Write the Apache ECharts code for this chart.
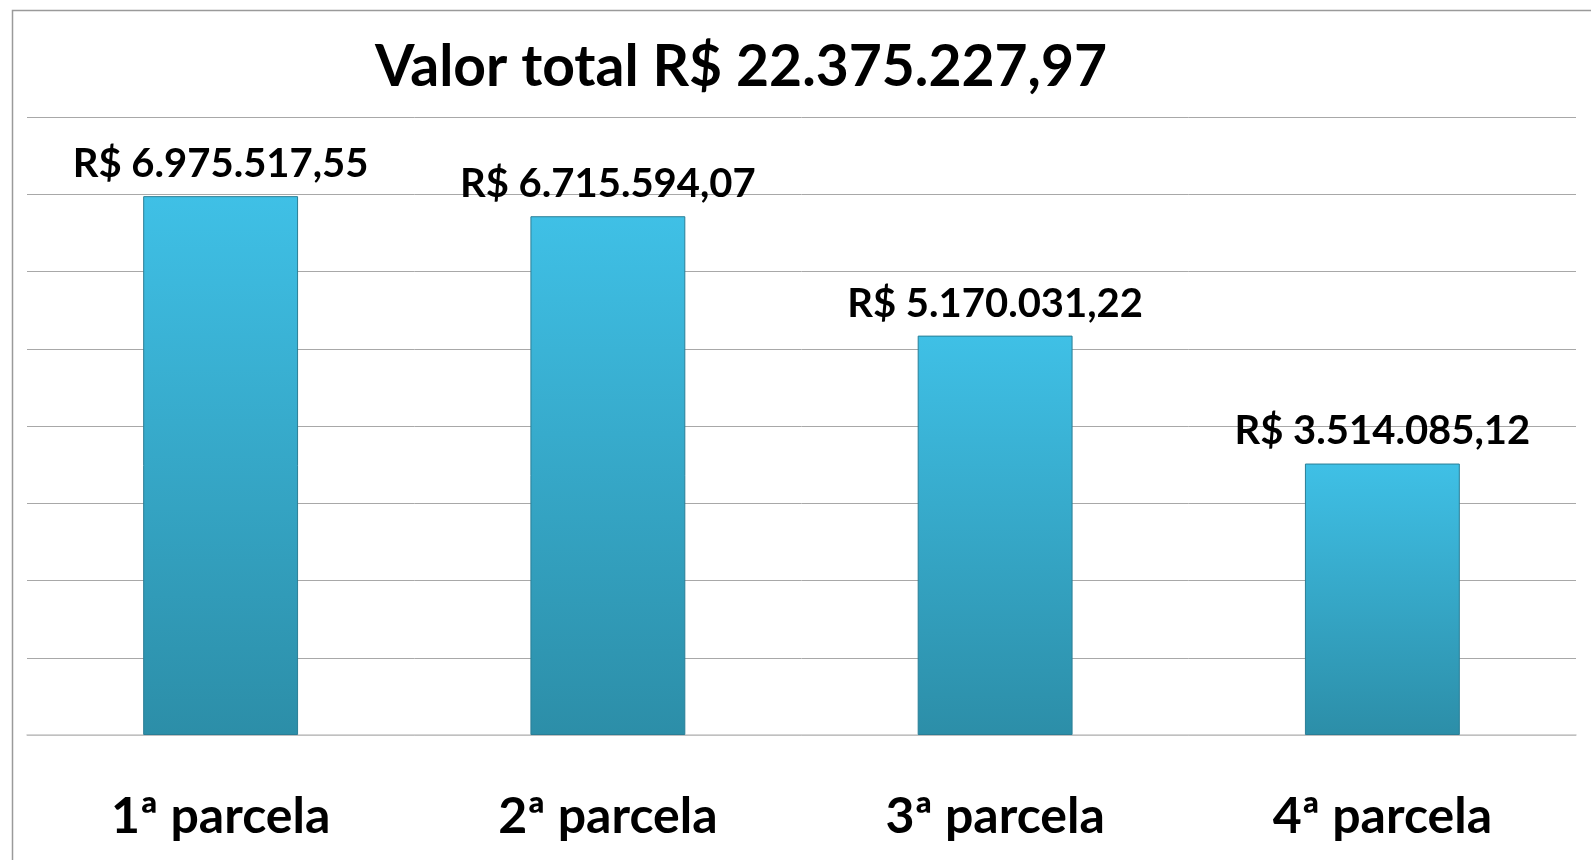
<!DOCTYPE html>
<html>
<head>
<meta charset="utf-8">
<script src="https://cdn.jsdelivr.net/npm/echarts@6/dist/echarts.min.js"></script>
<style>
  html, body { margin: 0; padding: 0; background: #fff; }
  #chart { width: 1591px; height: 860px; }
</style>
</head>
<body>
<div id="chart"></div>
<script>
const categories = ['1ª parcela', '2ª parcela', '3ª parcela', '4ª parcela'];
const values = [6975517.55, 6715594.07, 5170031.22, 3514085.12];
const titleText = 'Valor total R$ 22.375.227,97';

const FONT = 'Lato, "Open Sans", sans-serif';

function brl(v) {
  const parts = v.toFixed(2).split('.');
  const intPart = parts[0].replace(/\B(?=(\d{3})+(?!\d))/g, '.');
  return 'R$ ' + intPart + ',' + parts[1];
}

const chart = echarts.init(document.getElementById('chart'));
chart.setOption({
  animation: false,
  backgroundColor: '#fff',
  graphic: [{
    type: 'rect',
    left: 10, top: 8,
    shape: { width: 1620, height: 900 },
    style: { fill: 'none', stroke: '#9a9a9a', lineWidth: 1.5 }
  }],
  title: {
    text: titleText,
    left: 736,
    textAlign: 'center',
    top: 34,
    textStyle: { fontFamily: FONT, fontWeight: 'bold', fontSize: 57, color: '#000' }
  },
  grid: { left: 27, right: 15, top: 117, bottom: 125 },
  xAxis: {
    type: 'category',
    data: categories,
    axisTick: { show: false },
    axisLine: { lineStyle: { color: '#c8c8c8', width: 1.5 } },
    axisLabel: {
      margin: 82,
      verticalAlign: 'middle',
      lineHeight: 50,
      fontFamily: FONT, fontWeight: 'bold', fontSize: 50, color: '#000'
    }
  },
  yAxis: {
    type: 'value',
    min: 0, max: 8000000, interval: 1000000,
    axisLabel: { show: false },
    axisLine: { show: false },
    axisTick: { show: false },
    splitLine: { lineStyle: { color: '#a8a8a8', width: 1 } }
  },
  series: [{
    type: 'bar',
    data: values,
    barWidth: '40%',
    itemStyle: {
      color: new echarts.graphic.LinearGradient(0, 0, 0, 1, [
        { offset: 0, color: '#3fc0e6' },
        { offset: 1, color: '#2c8ea8' }
      ]),
      borderColor: '#2a7e96',
      borderWidth: 1
    },
    label: {
      show: true,
      position: 'top',
      distance: 12,
      formatter: p => brl(p.value),
      fontFamily: FONT, fontWeight: 'bold', fontSize: 40, color: '#000'
    }
  }]
});
</script>
</body>
</html>
